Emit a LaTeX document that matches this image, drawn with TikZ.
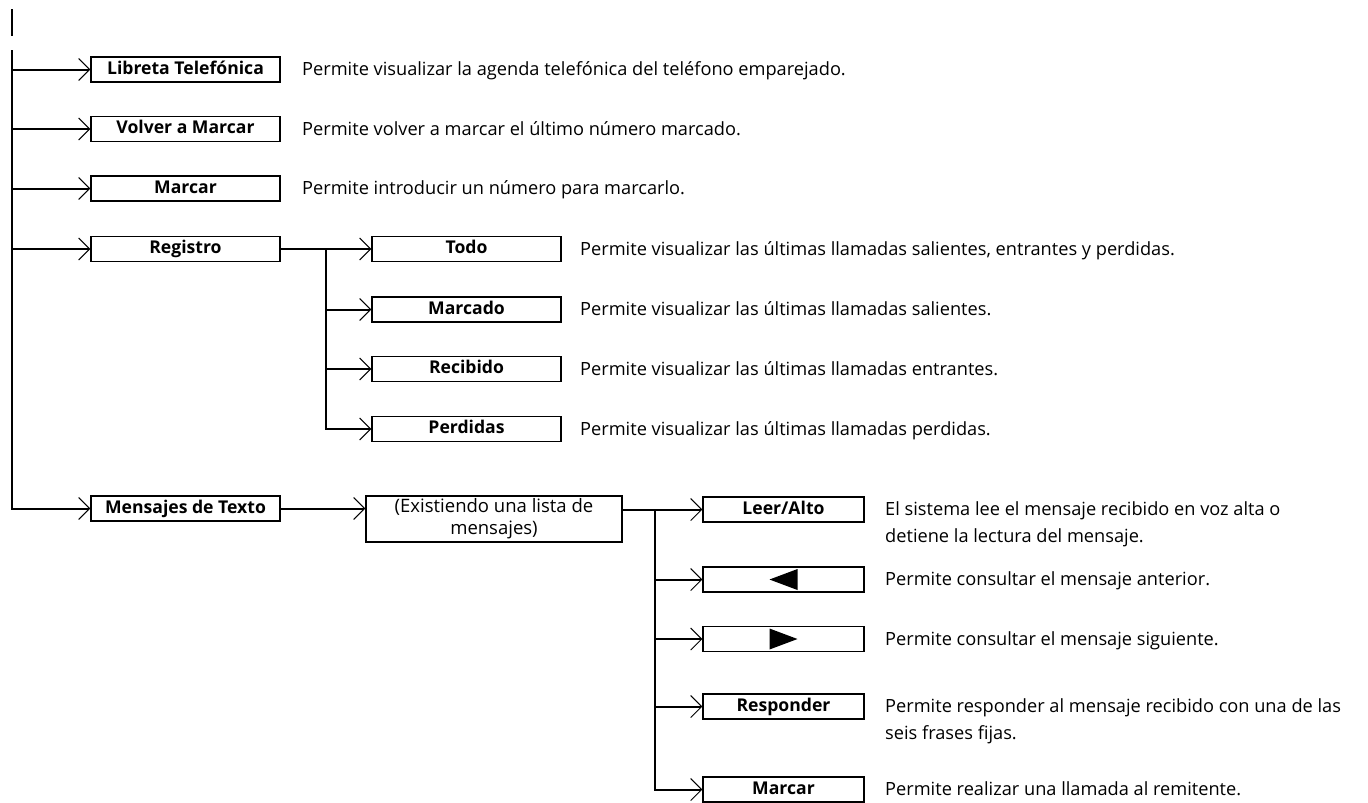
\documentclass[tikz,border=0pt]{standalone}
\usepackage{fontspec}
\setmainfont{Open Sans}
\usetikzlibrary{arrows.meta,calc}
\tikzset{
  x=1pt, y=-1pt,
  conn/.style={line width=2pt},
  arr/.style={conn, -{Straight Barb[length=11pt,width=22pt,line width=1pt]}},
  mbox/.style={draw, line width=1.2pt, minimum width=189pt, minimum height=25pt,
    inner sep=0pt, font=\bfseries\fontsize{17.6}{20}\selectfont,
    text height=12.5pt, text depth=3.5pt},
  sbox/.style={mbox, minimum width=161pt},
  desc/.style={anchor=base west, inner sep=0pt, align=left,
    font=\fontsize{18.2}{27}\selectfont},
}
\begin{document}
\begin{tikzpicture}
\useasboundingbox (0,0) rectangle (1368,803);
% main column
\coordinate (stubA) at (12,9);
\coordinate (stubB) at (12,36);
\coordinate (mtop) at (12,50);
\node[mbox] (lib) at (185.5,69.5) {Libreta Telefónica};
\node[mbox] (vol) at (185.5,129) {Volver a Marcar};
\node[mbox] (mar) at (185.5,188.5) {Marcar};
\node[mbox] (reg) at (185.5,249) {Registro};
\node[mbox] (men) at (185.5,508.5) {Mensajes de Texto};
\node[desc] (dlib) at (302,75.5) {Permite visualizar la agenda telefónica del teléfono emparejado.};
\node[desc] (dvol) at (302,135) {Permite volver a marcar el último número marcado.};
\node[desc] (dmar) at (302,194.5) {Permite introducir un número para marcarlo.};
\draw[conn] (stubA) -- (stubB);
\draw[arr] (mtop) |- (men.west);
\foreach \n in {lib,vol,mar,reg} \draw[arr] (mtop |- \n.west) -- (\n.west);
% Registro branch
\coordinate (rv) at (326,249);
\node[mbox] (todo) at (466.5,249) {Todo};
\node[mbox] (mcdo) at (466.5,309.5) {Marcado};
\node[mbox] (reci) at (466.5,369) {Recibido};
\node[mbox] (perd) at (466.5,429) {Perdidas};
\node[desc] (dtodo) at (580,255) {Permite visualizar las últimas llamadas salientes, entrantes y perdidas.};
\node[desc] (dmcdo) at (580,315.5) {Permite visualizar las últimas llamadas salientes.};
\node[desc] (dreci) at (580,375) {Permite visualizar las últimas llamadas entrantes.};
\node[desc] (dperd) at (580,435) {Permite visualizar las últimas llamadas perdidas.};
\draw[arr] (reg.east) -- (todo.west);
\draw[arr] (rv) |- (perd.west);
\foreach \n in {mcdo,reci} \draw[arr] (rv |- \n.west) -- (\n.west);
% Mensajes branch
\node[draw, line width=1.2pt, minimum width=256pt, minimum height=46pt, inner sep=0pt,
  align=center, font=\fontsize{18.5}{22}\selectfont] (exi) at (494,519) {(Existiendo una lista de\\mensajes)};
\draw[arr] (men.east) -- (exi.west |- men.east);
\node[sbox] (leer) at (783.5,509.5) {Leer/Alto};
\node[sbox] (prev) at (783.5,579.5) {};
\node[sbox] (next) at (783.5,639) {};
\node[sbox] (resp) at (783.5,706.5) {Responder};
\node[sbox] (marc) at (783.5,789.5) {Marcar};
\fill ($(prev.center)+(-14,0)$) -- ($(prev.center)+(14,-10.5)$) -- ($(prev.center)+(14,10.5)$) -- cycle;
\fill ($(next.center)+(14,0)$) -- ($(next.center)+(-14,-10.5)$) -- ($(next.center)+(-14,10.5)$) -- cycle;
\coordinate (mv) at (655,509.5);
\draw[arr] (exi.east |- leer.west) -- (leer.west);
\draw[arr] (mv) |- (marc.west);
\foreach \n in {prev,next,resp} \draw[arr] (mv |- \n.west) -- (\n.west);
\node[desc] (dleer) at (885,542.5) {El sistema lee el mensaje recibido en voz alta o\\detiene la lectura del mensaje.};
\node[desc] (dprev) at (885,585.5) {Permite consultar el mensaje anterior.};
\node[desc] (dnext) at (885,645) {Permite consultar el mensaje siguiente.};
\node[desc] (dresp) at (885,739.5) {Permite responder al mensaje recibido con una de las\\seis frases fijas.};
\node[desc] (dmarc) at (885,795.5) {Permite realizar una llamada al remitente.};
\end{tikzpicture}
\end{document}
